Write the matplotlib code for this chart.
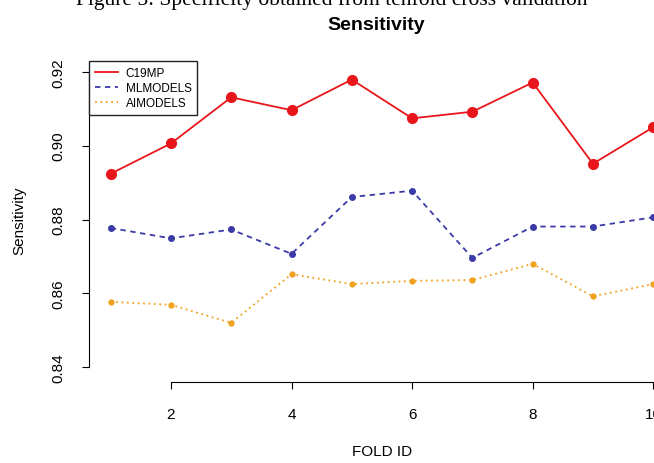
import numpy as np
import matplotlib
matplotlib.use('Agg')
import matplotlib.pyplot as plt

plt.rcParams['font.family'] = ['Liberation Sans', 'DejaVu Sans']

fold_id = [1, 2, 3, 4, 5, 6, 7, 8, 9, 10]
c19mp = [0.8924, 0.9006, 0.9131, 0.9096, 0.9179, 0.9074, 0.9092, 0.9171, 0.8951, 0.9050]
mlmodels = [0.8777, 0.8749, 0.8773, 0.8707, 0.8861, 0.8878, 0.8696, 0.8781, 0.8781, 0.8806]
aimodels = [0.8577, 0.8569, 0.8520, 0.8652, 0.8625, 0.8634, 0.8636, 0.8680, 0.8592, 0.8625]
xticks = [2, 4, 6, 8, 10]
yticks = [0.84, 0.86, 0.88, 0.90, 0.92]

fig = plt.figure(figsize=(6.54, 4.64), dpi=100)
ax = fig.add_axes([0.136, 0.181, 0.896, 0.6875])

ax.plot(fold_id, c19mp, color='#e8161b', lw=1.3, ls='-', marker='o', ms=7,
        label='C19MP')
ax.plot(fold_id, mlmodels, color='#3b3ba8', lw=1.3, ls=(0, (3, 2.5)), marker='o', ms=4,
        label='MLMODELS')
ax.plot(fold_id, aimodels, color='#f0a21e', lw=1.3, ls=(0, (1, 2)), marker='o', ms=3.5,
        label='AIMODELS')

ax.set_xlim(0.64, 10.36)
ax.set_ylim(0.8368, 0.9232)
ax.set_xticks(xticks)
ax.set_yticks(yticks)
ax.set_yticklabels(['%.2f' % v for v in yticks], rotation=90, va='center')

for s in ['top', 'right']:
    ax.spines[s].set_visible(False)
ax.spines['left'].set_bounds(0.84, 0.92)
ax.spines['bottom'].set_bounds(2, 10)
ax.spines['bottom'].set_position(('outward', 2))
ax.tick_params(axis='y', direction='out', length=5, pad=12, labelsize=11)
ax.tick_params(axis='x', direction='out', length=5, pad=13, labelsize=11)

ax.set_xlabel('FOLD ID', fontsize=11)
ax.xaxis.set_label_coords(0.5, -0.204)
ax.set_ylabel('Sensitivity', fontsize=11)
ax.yaxis.set_label_coords(-0.106, 0.5)

ax.set_title('Sensitivity', fontsize=14, fontweight='bold', pad=22, x=0.491)

# caption of the page, cut off at the top edge
fig.text(0.508, 0.989, 'Figure 5: Specificity obtained from tenfold cross validation',
         family=['Liberation Serif', 'DejaVu Serif'], fontsize=15.5, ha='center', va='baseline')

leg = ax.legend(loc='upper left', bbox_to_anchor=(0.0, 0.997), borderaxespad=0,
                fontsize=8.5, handlelength=2.0, handletextpad=0.6, labelspacing=0.25,
                fancybox=False, framealpha=1, edgecolor='#222222', borderpad=0.5)
for h in leg.legend_handles:
    h.set_marker('')
leg.get_frame().set_linewidth(1.0)

fig.savefig('out.png', dpi=100)
